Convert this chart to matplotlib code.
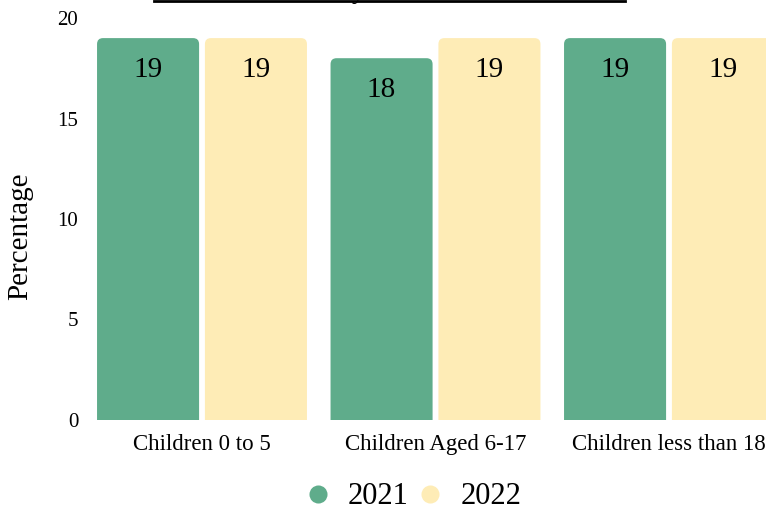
import matplotlib

matplotlib.use("Agg")
import matplotlib.pyplot as plt
from matplotlib.lines import Line2D
from matplotlib.patches import FancyBboxPatch

# datos
categories = ["Children 0 to 5", "Children Aged 6-17", "Children less than 18"]
years = ["2021", "2022"]
values_2021 = [19, 18, 19]
values_2022 = [19, 19, 19]
title = "Children in Poverty Rates in 2021 and 2022"

GREEN = "#5fac8b"
YELLOW = "#feecb6"
FONT = ["Liberation Serif", "DejaVu Serif"]

plt.rcParams["font.family"] = FONT

W, H = 766, 513
fig = plt.figure(figsize=(W / 100, H / 100), dpi=100)
ax = fig.add_axes([85.25 / W, 93 / H, 700.5 / W, 402 / H])
ax.set_xlim(-0.5, len(categories) - 0.5)
ax.set_ylim(0, 20)

bar_w = 0.437
offset = 0.231
radius_px = 6
px_x = 700.5 / 3.0  # px por unidad x
px_y = 402 / 20.0  # px por unidad y
r_x = radius_px / px_x
aspect = px_x / px_y

for series, color, sign in ((values_2021, GREEN, -1), (values_2022, YELLOW, 1)):
    for i, v in enumerate(series):
        cx = i + sign * offset
        x0 = cx - bar_w / 2
        patch = FancyBboxPatch(
            (x0 + r_x, -1), bar_w - 2 * r_x, v + 1 - r_x * aspect,
            boxstyle=f"round,pad={r_x},rounding_size={r_x}",
            mutation_aspect=aspect, facecolor=color, edgecolor="none",
        )
        ax.add_patch(patch)
        ax.annotate(
            str(v), (cx, v), xytext=(0, -23), textcoords="offset points",
            ha="center", va="center", fontsize=21, color="black",
        )

ax.set_xticks(range(len(categories)))
ax.set_xticklabels(categories)
ax.set_yticks([0, 5, 10, 15, 20])
ax.tick_params(axis="both", length=0)
ax.tick_params(axis="x", pad=10, labelsize=16.5)
ax.tick_params(axis="y", pad=5, labelsize=15)
ax.set_ylabel("Percentage", fontsize=21)
ax.yaxis.set_label_coords(-0.075, 0.458)
for s in ax.spines.values():
    s.set_visible(False)

# titulo recortado por arriba, con subrayado
t = fig.text(389 / W, 1 + 1.5 / H, title, ha="center", va="baseline", fontsize=19.3)
fig.canvas.draw()
bb = t.get_window_extent()
fig.add_artist(Line2D([bb.x0 / W, bb.x1 / W], [1 - 1.2 / H, 1 - 1.2 / H],
                      transform=fig.transFigure, color="black", lw=2))

handles = [
    Line2D([], [], marker="o", linestyle="none", markersize=13,
           markerfacecolor=c, markeredgecolor="none")
    for c in (GREEN, YELLOW)
]
fig.legend(handles, years, loc="center", bbox_to_anchor=(412 / W, 1 - 497 / H),
           ncol=2, frameon=False, fontsize=22, handletextpad=0.5,
           columnspacing=0.2, handlelength=1.0)

fig.savefig("out.png", dpi=100)
